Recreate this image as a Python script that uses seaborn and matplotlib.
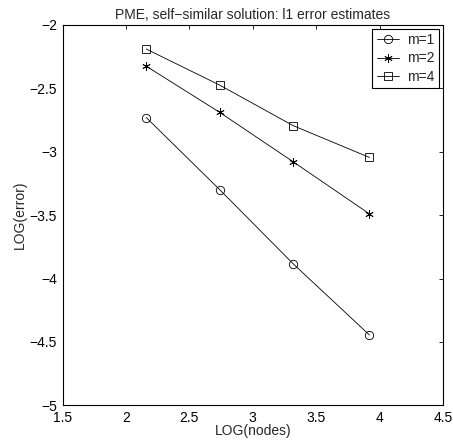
"""
PME self-similar solution: l1 error estimates (log-log convergence)
"""

import pandas as pd
import seaborn as sns
import matplotlib.pyplot as plt

# Data
log_nodes = [2.16, 2.74, 3.32, 3.92]
err_m1 = [-2.73, -3.30, -3.885, -4.445]
err_m2 = [-2.325, -2.69, -3.08, -3.49]
err_m4 = [-2.19, -2.475, -2.795, -3.045]
labels = ["m=1", "m=2", "m=4"]
markers = ["o", (6, 2, 0), "s"]
x_ticks = [1.5, 2, 2.5, 3, 3.5, 4, 4.5]
y_ticks = [-5, -4.5, -4, -3.5, -3, -2.5, -2]

sns.set_style("white")
plt.rcParams["font.family"] = ["Liberation Sans", "DejaVu Sans"]
plt.rcParams["font.size"] = 10

fig = plt.figure(figsize=(4.53, 4.45), dpi=100)
ax = fig.add_axes([0.138, 0.089, 0.840, 0.855])

for series, lab, mk in zip([err_m1, err_m2, err_m4], labels, markers):
    df = pd.DataFrame({"x": log_nodes, "y": series})
    sns.lineplot(data=df, x="x", y="y", ax=ax, color="k", linewidth=0.6,
                 marker=mk, markersize=6, markerfacecolor="none",
                 markeredgecolor="k", markeredgewidth=0.6, label=lab)

ax.set_xlim(1.5, 4.5)
ax.set_ylim(-5, -2)
ax.set_xticks(x_ticks)
ax.set_yticks(y_ticks)
ax.set_xticklabels(["1.5", "2", "2.5", "3", "3.5", "4", "4.5"])
ax.set_yticklabels(["\u22125", "\u22124.5", "\u22124", "\u22123.5", "\u22123", "\u22122.5", "\u22122"])
ax.tick_params(direction="in", length=3, width=0.6, top=True, right=True,
               labelsize=10, colors="k")
ax.tick_params(axis="x", pad=4)
ax.tick_params(axis="y", pad=4)
for s in ax.spines.values():
    s.set_color("k")
    s.set_linewidth(0.8)

ax.set_xlabel("LOG(nodes)", fontsize=10, labelpad=-1)
ax.set_ylabel("LOG(error)", fontsize=10, labelpad=2)
ax.set_title("PME, self\u2212similar solution: l1 error estimates", fontsize=10, pad=4)

leg = ax.legend(loc="upper right", fancybox=False, edgecolor="k", framealpha=1,
                fontsize=10, handlelength=1.6, borderaxespad=0.3, borderpad=0.3,
                labelspacing=0.3, handletextpad=0.6)
leg.get_frame().set_linewidth(0.8)

fig.savefig("out.png", dpi=100)
